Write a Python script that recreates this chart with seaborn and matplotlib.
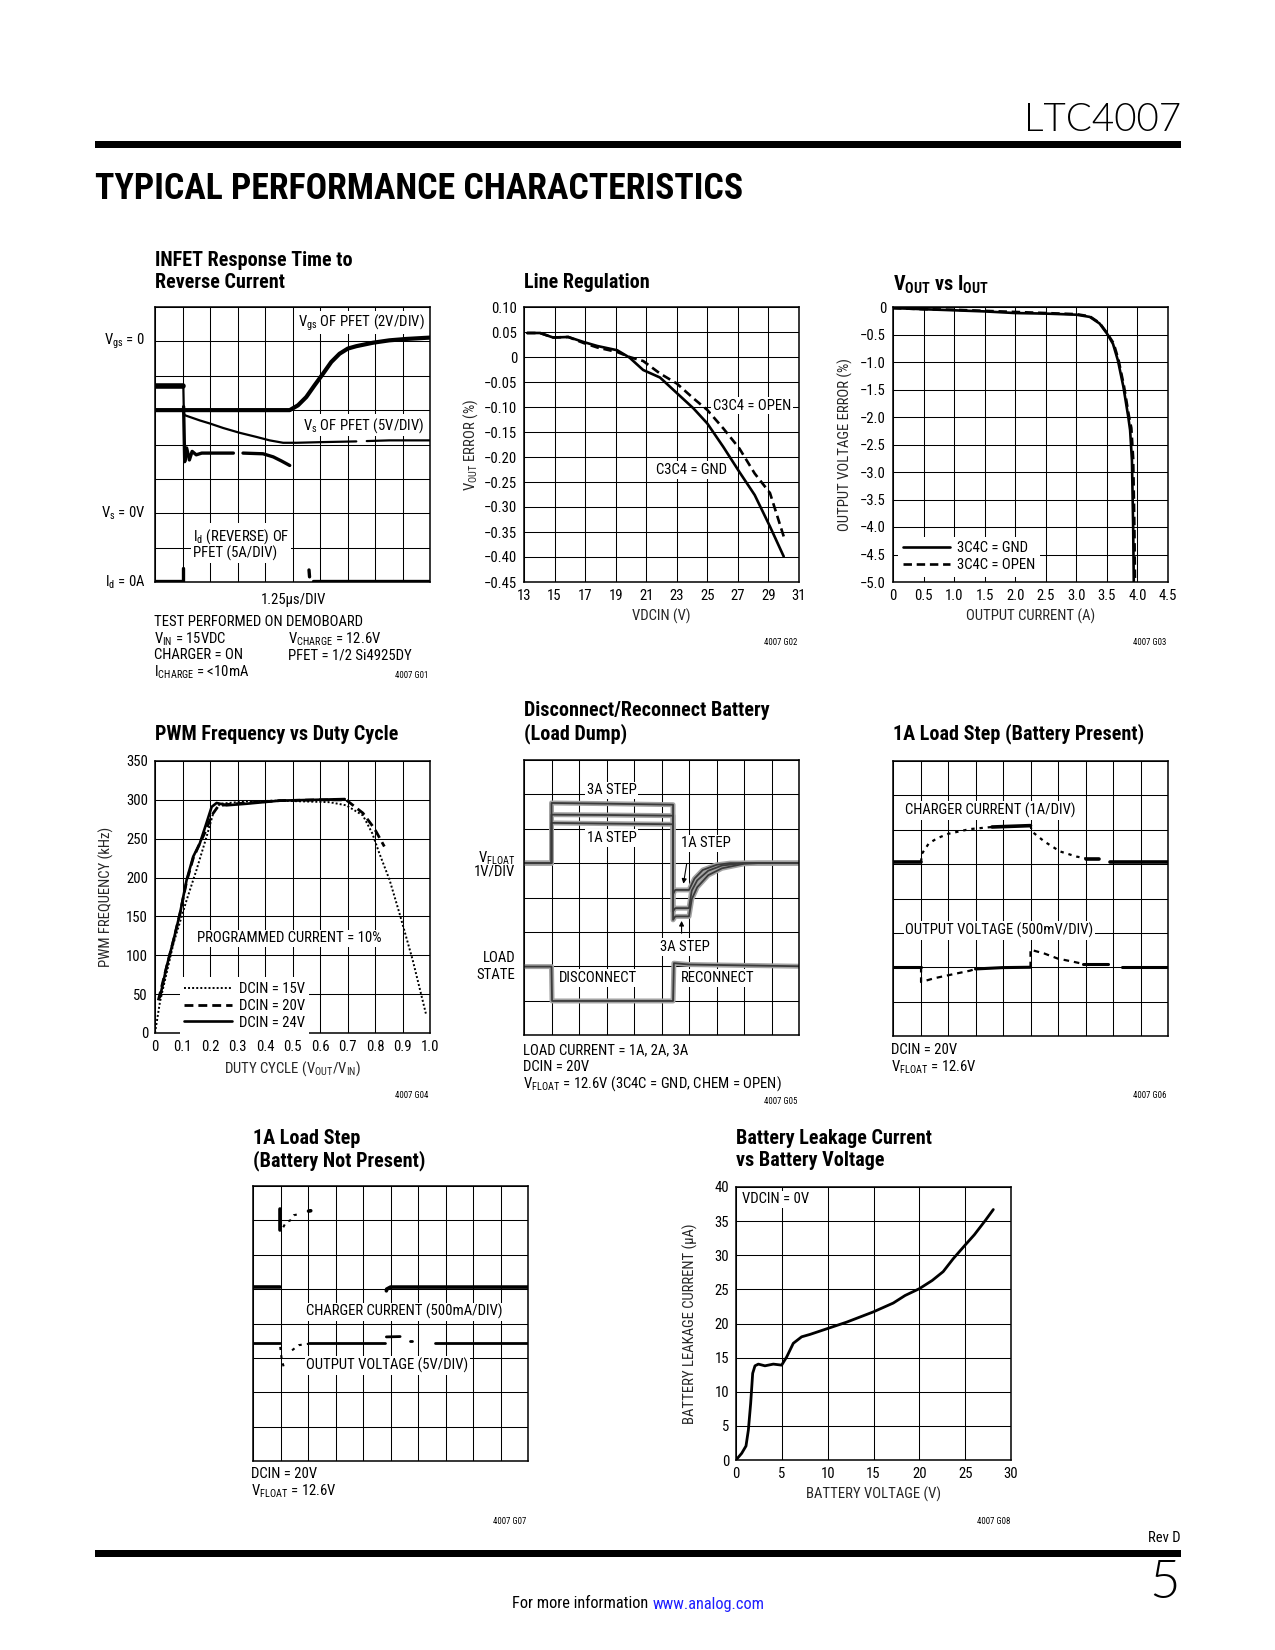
import matplotlib
matplotlib.use("Agg")
import matplotlib.pyplot as plt
import seaborn as sns
import pandas as pd
from matplotlib import font_manager
from matplotlib.patches import Rectangle

# ======================= DATA =======================
# G01  INFET response (scope divisions: x 0..10, y 0..8)
infet_vgs_t = [0, 4.90, 5.20, 5.50, 5.80, 6.11, 6.41, 6.71, 7.01, 7.32, 7.92, 8.52, 9.13, 10.0]
infet_vgs_v = [5.0, 5.00, 5.14, 5.38, 5.72, 6.06, 6.40, 6.64, 6.79, 6.86, 6.96, 7.03, 7.07, 7.11]
infet_vs_pre_t = [0, 1.03]
infet_vs_pre_v = [5.70, 5.70]
infet_vs_t = [1.03, 1.05, 1.09, 1.63, 2.0, 2.48, 3.08, 3.69, 4.17, 4.66, 5.14, 6.11, 7.32, 7.7, 8.52, 10]
infet_vs_v = [5.70, 4.90, 4.85, 4.70, 4.61, 4.48, 4.34, 4.22, 4.12, 4.05, 4.05, 4.07, 4.09, 4.10, 4.12, 4.12]
infet_vs_seg = [0, 0, 0, 0, 0, 0, 0, 0, 0, 0, 0, 0, 0, 1, 1, 1]
infet_id_t = [0, 1.03, 1.03, 1.04, 1.08, 1.15, 1.25, 1.35, 1.5, 1.7, 2.85, 3.2, 3.93, 4.3, 4.6, 4.9, 5.6, 5.62, 5.75, 10]
infet_id_v = [0.03, 0.03, 0.40, 5.10, 3.50, 3.90, 3.55, 3.80, 3.70, 3.75, 3.75, 3.75, 3.73, 3.64, 3.52, 3.39, 0.35, 0.15, 0.04, 0.04]
infet_id_seg = [0, 0, 0, 1, 1, 1, 1, 1, 1, 1, 1, 2, 2, 2, 2, 2, 3, 3, 4, 4]

# G02  Line regulation
lr_gnd_vdcin = [13.2, 14.05, 14.9, 15.9, 16.9, 17.8, 19.1, 19.9, 20.8, 21.9, 23.0, 24.1, 25.0, 26.05, 27.1, 28.1, 29.1, 30.0]
lr_gnd_err = [0.048, 0.048, 0.039, 0.040, 0.030, 0.022, 0.0135, -0.001, -0.026, -0.041, -0.072, -0.103, -0.133, -0.180, -0.230, -0.276, -0.339, -0.399]
lr_open_vdcin = [13.2, 14.05, 14.9, 15.9, 16.9, 17.8, 19.1, 19.9, 20.8, 21.9, 23.0, 24.1, 25.0, 26.05, 27.1, 28.1, 29.1, 30.0]
lr_open_err = [0.048, 0.048, 0.039, 0.040, 0.028, 0.019, 0.010, 0.000, -0.008, -0.033, -0.053, -0.083, -0.106, -0.143, -0.183, -0.233, -0.272, -0.359]
lr_xticks = [13, 15, 17, 19, 21, 23, 25, 27, 29, 31]
lr_yticks = [0.10, 0.05, 0, -0.05, -0.10, -0.15, -0.20, -0.25, -0.30, -0.35, -0.40, -0.45]
lr_yticklabels = ["0.10", "0.05", "0", "\u22120.05", "\u22120.10", "\u22120.15", "\u22120.20", "\u22120.25",
                  "\u22120.30", "\u22120.35", "\u22120.40", "\u22120.45"]

# G03  Vout vs Iout
vi_gnd_i = [0, 0.5, 1.0, 1.5, 2.0, 2.5, 3.0, 3.22, 3.38, 3.5, 3.6, 3.68, 3.77, 3.85, 3.88, 3.91, 3.93, 3.94]
vi_gnd_err = [-0.02, -0.04, -0.06, -0.08, -0.11, -0.12, -0.14, -0.18, -0.30, -0.48, -0.67, -0.97, -1.45, -2.0, -2.24, -2.79, -4.0, -5.0]
vi_open_i = [0, 0.5, 1.0, 1.5, 2.0, 2.5, 3.0, 3.22, 3.38, 3.5, 3.61, 3.69, 3.78, 3.86, 3.9, 3.93, 3.95, 3.96]
vi_open_err = [-0.02, -0.04, -0.05, -0.07, -0.09, -0.11, -0.13, -0.17, -0.29, -0.47, -0.66, -0.96, -1.44, -1.98, -2.2, -2.75, -4.0, -5.0]
vi_xticks = [0, 0.5, 1.0, 1.5, 2.0, 2.5, 3.0, 3.5, 4.0, 4.5]
vi_xticklabels = ["0", "0.5", "1.0", "1.5", "2.0", "2.5", "3.0", "3.5", "4.0", "4.5"]
vi_yticks = [0, -0.5, -1.0, -1.5, -2.0, -2.5, -3.0, -3.5, -4.0, -4.5, -5.0]
vi_yticklabels = ["0", "\u22120.5", "\u22121.0", "\u22121.5", "\u22122.0", "\u22122.5", "\u22123.0",
                  "\u22123.5", "\u22124.0", "\u22124.5", "\u22125.0"]

# G04  PWM frequency vs duty cycle
pwm15_duty = [0.0, 0.018, 0.067, 0.115, 0.151, 0.187, 0.212, 0.236, 0.333, 0.45, 0.635, 0.695, 0.756, 0.79, 0.816, 0.853, 0.889, 0.937, 0.985]
pwm15_khz = [0, 40, 115, 171, 210, 252, 283, 295, 298, 299, 297, 293, 280, 257, 231, 197, 154, 94, 25]
pwm20_duty = [0.012, 0.04, 0.067, 0.091, 0.115, 0.139, 0.163, 0.187, 0.206, 0.23, 0.26, 0.333, 0.453, 0.6, 0.695, 0.756, 0.798, 0.834]
pwm20_khz = [42, 82, 119, 154, 195, 225, 244, 262, 280, 292, 294, 296, 299, 300, 300, 283, 263, 240]
pwm24_duty = [0.018, 0.042, 0.067, 0.091, 0.115, 0.139, 0.163, 0.187, 0.206, 0.224, 0.26, 0.333, 0.453, 0.574, 0.69]
pwm24_khz = [46, 85, 119, 154, 197, 227, 244, 270, 291, 296, 293, 295, 299, 300, 301]
pwm_xticks = [0, 0.1, 0.2, 0.3, 0.4, 0.5, 0.6, 0.7, 0.8, 0.9, 1.0]
pwm_xticklabels = ["0", "0.1", "0.2", "0.3", "0.4", "0.5", "0.6", "0.7", "0.8", "0.9", "1.0"]
pwm_yticks = [0, 50, 100, 150, 200, 250, 300, 350]

# G05  Disconnect / reconnect (scope divisions)
ld_vf3_t = [0, 1.0, 1.0, 3.0, 5.42, 5.42, 5.5, 6.0, 6.1, 6.3, 6.7, 7.2, 8.0, 8.5, 10]
ld_vf3_v = [5.0, 5.0, 6.75, 6.73, 6.70, 3.35, 3.45, 3.45, 3.95, 4.30, 4.65, 4.85, 4.98, 5.0, 5.0]
ld_vf2_t = [0, 1.0, 1.0, 3.0, 5.42, 5.42, 5.5, 6.0, 6.1, 6.3, 6.7, 7.2, 8.0, 10]
ld_vf2_v = [5.0, 5.0, 6.41, 6.40, 6.38, 3.60, 3.69, 3.69, 4.20, 4.50, 4.78, 4.93, 5.0, 5.0]
ld_vf1_t = [0, 1.0, 1.0, 3.0, 5.42, 5.42, 5.5, 6.0, 6.2, 6.5, 7.0, 7.5, 10]
ld_vf1_v = [5.0, 5.0, 6.17, 6.15, 6.13, 4.10, 4.22, 4.22, 4.55, 4.80, 4.95, 5.0, 5.0]
ld_state_t = [0, 1.0, 1.02, 5.42, 5.45, 6.0, 10]
ld_state_v = [1.99, 1.99, 0.99, 0.99, 2.09, 2.05, 2.0]

# G06  1A load step, battery present (scope divisions)
bp_cc_solid_t = [0, 1.02, 3.6, 5.0, 7.0, 7.5, 7.88, 10]
bp_cc_solid_v = [5.07, 5.07, 6.08, 6.12, 5.16, 5.16, 5.07, 5.07]
bp_cc_solid_seg = [0, 0, 1, 1, 2, 2, 3, 3]
bp_cc_dot_t = [1.02, 1.05, 1.3, 1.6, 2.0, 2.8, 3.6, 5.0, 5.05, 5.5, 6.07, 6.67, 7.0]
bp_cc_dot_v = [5.07, 5.30, 5.60, 5.75, 5.88, 6.02, 6.08, 6.12, 5.95, 5.66, 5.37, 5.22, 5.17]
bp_cc_dot_seg = [0, 0, 0, 0, 0, 0, 0, 1, 1, 1, 1, 1, 1]
bp_ov_solid_t = [0, 1.02, 3.0, 4.0, 5.0, 6.9, 7.8, 8.33, 10]
bp_ov_solid_v = [2.01, 2.01, 1.95, 1.99, 2.0, 2.09, 2.09, 2.01, 2.01]
bp_ov_solid_seg = [0, 0, 1, 1, 1, 2, 2, 3, 3]
bp_ov_dot_t = [1.02, 1.02, 1.5, 2.2, 2.8, 3.0, 5.0, 5.0, 5.5, 6.0, 6.5, 6.9]
bp_ov_dot_v = [2.01, 1.57, 1.68, 1.80, 1.90, 1.95, 2.0, 2.51, 2.40, 2.25, 2.17, 2.10]
bp_ov_dot_seg = [0, 0, 0, 0, 0, 0, 1, 1, 1, 1, 1, 1]

# G07  1A load step, battery not present (scope divisions)
bn_cc_solid_t = [0, 0.97, 0.99, 0.99, 2.02, 2.10, 4.85, 4.86, 5.0, 10]
bn_cc_solid_v = [5.06, 5.06, 7.34, 6.71, 7.27, 7.28, 4.95, 5.0, 5.06, 5.06]
bn_cc_solid_seg = [0, 0, 1, 1, 2, 2, 3, 3, 3, 3]
bn_cc_dot_t = [1.10, 1.20, 1.36, 1.48, 1.66]
bn_cc_dot_v = [6.80, 6.95, 7.00, 7.15, 7.18]
bn_ov_solid_t = [0, 0.97, 2.02, 4.80, 4.85, 5.35, 5.72, 5.78, 6.63, 10]
bn_ov_solid_v = [3.43, 3.43, 3.43, 3.43, 3.61, 3.62, 3.50, 3.50, 3.43, 3.43]
bn_ov_solid_seg = [0, 0, 1, 1, 2, 2, 3, 3, 4, 4]
bn_ov_dot_t = [0.99, 1.02, 1.05, 1.12, 1.42, 1.66, 2.02]
bn_ov_dot_v = [3.32, 3.10, 2.93, 2.73, 3.22, 3.37, 3.41]
bn_ov_dot_seg = [0, 0, 0, 0, 1, 1, 1]

# G08  Battery leakage current vs battery voltage
leak_v = [0, 0.62, 1.09, 1.35, 1.6, 1.82, 2.07, 2.44, 3.16, 4.07, 4.98, 5.53, 6.25, 7.16, 8.07, 10.07,
          12.07, 14.98, 17.16, 18.44, 20.0, 21.4, 22.6, 23.7, 25.0, 26.0, 27.2, 28.07]
leak_ua = [0, 0.98, 2.05, 4.4, 8.3, 12.7, 13.8, 14.05, 13.8, 14.05, 13.9, 15.1, 17.1, 18.05, 18.4, 19.3,
           20.2, 21.7, 23.0, 24.1, 25.1, 26.3, 27.6, 29.5, 31.5, 33.0, 35.1, 36.7]
leak_xticks = [0, 5, 10, 15, 20, 25, 30]
leak_yticks = [0, 5, 10, 15, 20, 25, 30, 35, 40]

# ======================= STYLE =======================
sns.set_theme(style="white")
names = {f.name for f in font_manager.fontManager.ttflist}
NARROW = next((n for n in ["Liberation Sans Narrow", "Roboto Condensed", "Liberation Sans", "Roboto"]
               if n in names), "DejaVu Sans")
LIGHT = next((n for n in ["Lato", "Roboto", "Open Sans"] if n in names), "DejaVu Sans")
plt.rcParams["font.family"] = [NARROW, "DejaVu Sans"]
plt.rcParams["mathtext.default"] = "regular"
plt.rcParams["text.color"] = "black"

W, H, DPI = 1275, 1650, 100
FS = 10.6
TFS = 14.5
GFS = 6.3
WHITE = dict(facecolor="white", edgecolor="none", pad=1.2)

fig = plt.figure(figsize=(W / DPI, H / DPI), dpi=DPI)
fig.patch.set_facecolor("white")


def px_axes(l, t, w=275, h=275):
    ax = fig.add_axes([l / W, 1 - (t + h) / H, w / W, h / H])
    ax.set_facecolor("white")
    for s in ax.spines.values():
        s.set_visible(True)
        s.set_color("black")
        s.set_linewidth(1.1)
    ax.set_axisbelow(True)
    ax.grid(True, color="black", linewidth=0.75)
    ax.tick_params(length=0, labelsize=FS, colors="black", pad=5)
    return ax


def scope_axes(l, t):
    ax = px_axes(l, t)
    ax.set_xlim(0, 10)
    ax.set_ylim(0, 8)
    ax.set_xticks(range(11))
    ax.set_yticks(range(9))
    ax.tick_params(labelbottom=False, labelleft=False)
    return ax


def ftext(x, y, s, **kw):
    kw.setdefault("fontsize", FS)
    kw.setdefault("va", "center")
    kw.setdefault("ha", "left")
    return fig.text(x / W, 1 - y / H, s, **kw)


def title(x, y, s):
    return ftext(x, y, s, fontsize=TFS, fontweight="bold")


def trace(ax, t, v, seg=None, **kw):
    df = pd.DataFrame({"t": t, "v": v, "seg": seg if seg is not None else [0] * len(t)})
    sns.lineplot(data=df, x="t", y="v", units="seg", estimator=None, sort=False,
                 ax=ax, legend=False, **kw)
    ax.set_xlabel("")
    ax.set_ylabel("")


# ======================= HEADER / FOOTER =======================
fig.add_artist(Rectangle((95 / W, 1 - 148 / H), (1181 - 95) / W, 7 / H, transform=fig.transFigure,
                         facecolor="black", edgecolor="none"))
fig.add_artist(Rectangle((95 / W, 1 - 1557 / H), (1181 - 95) / W, 7 / H, transform=fig.transFigure,
                         facecolor="black", edgecolor="none"))
part = ftext(1181, 120, "LTC4007", ha="right", fontsize=28, family=[LIGHT, "DejaVu Sans"], fontweight=300)
head = ftext(95, 189, "TYPICAL PERFORMANCE CHARACTERISTICS", fontsize=26, fontweight="heavy")
ftext(1181, 1538, "Rev D", ha="right", fontsize=10.5)
ftext(1180, 1583, "5", ha="right", fontsize=38, family=[LIGHT, "DejaVu Sans"], fontweight=300)
info = ftext(512, 1604, "For more information", fontsize=11.8)
web = ftext(640, 1604, "www.analog.com", fontsize=11.8, color="#1f1fff")

# ======================= G01 =======================
ax = scope_axes(155, 307)
trace(ax, infet_vs_pre_t, infet_vs_pre_v, color="black", linewidth=4.0)
trace(ax, infet_vs_t, infet_vs_v, infet_vs_seg, color="black", linewidth=1.6)
trace(ax, infet_vgs_t, infet_vgs_v, color="black", linewidth=3.0)
trace(ax, infet_id_t, infet_id_v, infet_id_seg, color="black", linewidth=2.4)
ax.text(5.2, 7.55, "V$_{gs}$ OF PFET (2V/DIV)", fontsize=FS, va="center", bbox=WHITE)
ax.text(5.37, 4.56, "V$_{s}$ OF PFET (5V/DIV)", fontsize=FS, va="center", bbox=WHITE)
ax.text(1.38, 1.1, "I$_{d}$ (REVERSE) OF\nPFET (5A/DIV)", fontsize=FS, va="center", linespacing=1.0, bbox=WHITE)
for yv, s in [(7, "V$_{gs}$ = 0"), (2, "V$_{s}$ = 0V"), (0, "I$_{d}$ = 0A")]:
    ax.text(-0.35, yv, s, fontsize=FS, ha="right", va="center", clip_on=False)
title(155, 260, "INFET Response Time to")
title(155, 283, "Reverse Current")
ftext(293, 600, "1.25\u00b5s/DIV", ha="center")
ftext(154, 622, "TEST PERFORMED ON DEMOBOARD")
ftext(154, 639, "V$_{IN}$ = 15VDC")
ftext(154, 655, "CHARGER = ON")
ftext(154, 672, "I$_{CHARGE}$ = <10mA")
ftext(288, 639, "V$_{CHARGE}$ = 12.6V")
ftext(288, 655, "PFET = 1/2 Si4925DY")
ftext(428, 676, "4007 G01", ha="right", fontsize=GFS)

# ======================= G02 =======================
ax = px_axes(524, 307)
sns.lineplot(x=lr_open_vdcin, y=lr_open_err, ax=ax, color="black", linewidth=1.9,
             linestyle=(0, (3.2, 1.8)), estimator=None, sort=False)
sns.lineplot(x=lr_gnd_vdcin, y=lr_gnd_err, ax=ax, color="black", linewidth=1.9, estimator=None, sort=False)
ax.set_xlim(13, 31)
ax.set_ylim(-0.45, 0.10)
ax.set_xticks(lr_xticks)
ax.set_yticks(lr_yticks)
ax.set_yticklabels(lr_yticklabels)
ax.set_xlabel("VDCIN (V)", fontsize=FS, labelpad=4)
ax.set_ylabel("V$_{OUT}$ ERROR (%)", fontsize=FS, labelpad=3)
ax.text(25.37, -0.097, "C3C4 = OPEN", fontsize=FS, va="center", bbox=WHITE)
ax.text(21.64, -0.226, "C3C4 = GND", fontsize=FS, va="center", bbox=WHITE)
title(524, 283, "Line Regulation")
ftext(797, 643, "4007 G02", ha="right", fontsize=GFS)

# ======================= G03 =======================
ax = px_axes(893, 307)
sns.lineplot(x=vi_open_i, y=vi_open_err, ax=ax, color="black", linewidth=1.9,
             linestyle=(0, (3.2, 1.8)), estimator=None, sort=False, label="3C4C = OPEN")
sns.lineplot(x=vi_gnd_i, y=vi_gnd_err, ax=ax, color="black", linewidth=1.9, estimator=None, sort=False,
             label="3C4C = GND")
ax.set_xlim(0, 4.5)
ax.set_ylim(-5.0, 0)
ax.set_xticks(vi_xticks)
ax.set_xticklabels(vi_xticklabels)
ax.set_yticks(vi_yticks)
ax.set_yticklabels(vi_yticklabels)
ax.set_xlabel("OUTPUT CURRENT (A)", fontsize=FS, labelpad=4)
ax.set_ylabel("OUTPUT VOLTAGE ERROR (%)", fontsize=FS, labelpad=5)
hs, ls = ax.get_legend_handles_labels()
leg = ax.legend(hs[::-1], ls[::-1], loc="lower left", bbox_to_anchor=(0.0, 0.0), fontsize=FS,
                frameon=True, facecolor="white", edgecolor="none", framealpha=1, fancybox=False,
                handlelength=3.2, handletextpad=0.5, labelspacing=0.2, borderpad=0.3, borderaxespad=0.35)
title(893, 285, "V$_{OUT}$ vs I$_{OUT}$")
ftext(1166, 643, "4007 G03", ha="right", fontsize=GFS)

# ======================= G04 =======================
ax = px_axes(155, 761, 275, 272)
sns.lineplot(x=pwm15_duty, y=pwm15_khz, ax=ax, color="black", linewidth=1.4, linestyle=(0, (1, 1.1)),
             estimator=None, sort=False, label="DCIN = 15V")
sns.lineplot(x=pwm20_duty, y=pwm20_khz, ax=ax, color="black", linewidth=2.0, linestyle=(0, (3.2, 1.8)),
             estimator=None, sort=False, label="DCIN = 20V")
sns.lineplot(x=pwm24_duty, y=pwm24_khz, ax=ax, color="black", linewidth=1.9,
             estimator=None, sort=False, label="DCIN = 24V")
ax.set_xlim(0, 1.0)
ax.set_ylim(0, 350)
ax.set_xticks(pwm_xticks)
ax.set_xticklabels(pwm_xticklabels)
ax.set_yticks(pwm_yticks)
ax.set_xlabel("DUTY CYCLE (V$_{OUT}$/V$_{IN}$)", fontsize=FS, labelpad=4)
ax.set_ylabel("PWM FREQUENCY (kHz)", fontsize=FS, labelpad=9)
ax.legend(loc="lower left", bbox_to_anchor=(0.075, -0.02), fontsize=FS,
          frameon=True, facecolor="white", edgecolor="none", framealpha=1, fancybox=False,
          handlelength=3.2, handletextpad=0.5, labelspacing=0.2, borderpad=0.3, borderaxespad=0.3)
ax.text(0.152, 122, "PROGRAMMED CURRENT = 10%", fontsize=FS, va="center", bbox=WHITE)
title(155, 734, "PWM Frequency vs Duty Cycle")
ftext(428, 1095, "4007 G04", ha="right", fontsize=GFS)

# ======================= G05 =======================
ax = scope_axes(524, 760)
for tt, vv in [(ld_vf1_t, ld_vf1_v), (ld_vf2_t, ld_vf2_v), (ld_vf3_t, ld_vf3_v), (ld_state_t, ld_state_v)]:
    trace(ax, tt, vv, color="#a3a3a3", linewidth=3.6)
for tt, vv in [(ld_vf1_t, ld_vf1_v), (ld_vf2_t, ld_vf2_v), (ld_vf3_t, ld_vf3_v), (ld_state_t, ld_state_v)]:
    trace(ax, tt, vv, color="#3a3a3a", linewidth=1.3)
ax.text(2.29, 7.12, "3A STEP", fontsize=FS, va="center", bbox=WHITE)
ax.text(2.29, 5.73, "1A STEP", fontsize=FS, va="center", bbox=WHITE)
ax.text(5.70, 5.58, "1A STEP", fontsize=FS, va="center", bbox=WHITE)
ax.text(4.93, 2.56, "3A STEP", fontsize=FS, va="center", bbox=WHITE)
ax.text(1.27, 1.66, "DISCONNECT", fontsize=FS, va="center", bbox=WHITE)
ax.text(5.70, 1.66, "RECONNECT", fontsize=FS, va="center", bbox=WHITE)
ax.annotate("", xy=(5.78, 4.32), xytext=(5.93, 5.05),
            arrowprops=dict(arrowstyle="-|>", color="black", lw=0.8, mutation_scale=7))
ax.annotate("", xy=(5.73, 3.40), xytext=(5.73, 2.88),
            arrowprops=dict(arrowstyle="-|>", color="black", lw=0.8, mutation_scale=7))
ftext(515, 858, "V$_{FLOAT}$", ha="right")
ftext(515, 872, "1V/DIV", ha="right")
ftext(515, 958, "LOAD", ha="right")
ftext(515, 975, "STATE", ha="right")
title(524, 711, "Disconnect/Reconnect Battery")
title(524, 734, "(Load Dump)")
ftext(523, 1050, "LOAD CURRENT = 1A, 2A, 3A")
ftext(523, 1067, "DCIN = 20V")
ftext(523, 1084, "V$_{FLOAT}$ = 12.6V (3C4C = GND, CHEM = OPEN)")
ftext(797, 1101, "4007 G05", ha="right", fontsize=GFS)

# ======================= G06 =======================
ax = scope_axes(893, 761)
trace(ax, bp_cc_solid_t, bp_cc_solid_v, bp_cc_solid_seg, color="black", linewidth=2.6)
trace(ax, bp_cc_dot_t, bp_cc_dot_v, bp_cc_dot_seg, color="black", linewidth=1.6, linestyle=(0, (1.5, 2.2)))
trace(ax, bp_ov_solid_t, bp_ov_solid_v, bp_ov_solid_seg, color="black", linewidth=2.2)
trace(ax, bp_ov_dot_t, bp_ov_dot_v, bp_ov_dot_seg, color="black", linewidth=1.6, linestyle=(0, (2.5, 2.2)))
ax.text(0.45, 6.56, "CHARGER CURRENT (1A/DIV)", fontsize=FS, va="center", bbox=WHITE)
ax.text(0.45, 3.07, "OUTPUT VOLTAGE (500mV/DIV)", fontsize=FS, va="center", bbox=WHITE)
title(893, 734, "1A Load Step (Battery Present)")
ftext(891, 1050, "DCIN = 20V")
ftext(891, 1067, "V$_{FLOAT}$ = 12.6V")
ftext(1166, 1095, "4007 G06", ha="right", fontsize=GFS)

# ======================= G07 =======================
ax = scope_axes(253, 1186)
trace(ax, bn_cc_solid_t, bn_cc_solid_v, bn_cc_solid_seg, color="black", linewidth=2.6)
trace(ax, bn_cc_dot_t, bn_cc_dot_v, color="black", linewidth=1.5, linestyle=(0, (1.5, 2.5)))
trace(ax, bn_ov_solid_t, bn_ov_solid_v, bn_ov_solid_seg, color="black", linewidth=2.0)
trace(ax, bn_ov_dot_t, bn_ov_dot_v, bn_ov_dot_seg, color="black", linewidth=1.5, linestyle=(0, (1.5, 2.5)))
ax.text(1.94, 4.34, "CHARGER CURRENT (500mA/DIV)", fontsize=FS, va="center", bbox=WHITE)
ax.text(1.94, 2.78, "OUTPUT VOLTAGE (5V/DIV)", fontsize=FS, va="center", bbox=WHITE)
title(253, 1138, "1A Load Step")
title(253, 1161, "(Battery Not Present)")
ftext(251, 1474, "DCIN = 20V")
ftext(251, 1491, "V$_{FLOAT}$ = 12.6V")
ftext(526, 1521, "4007 G07", ha="right", fontsize=GFS)

# ======================= G08 =======================
ax = px_axes(736, 1187, 275, 273)
sns.lineplot(x=leak_v, y=leak_ua, ax=ax, color="black", linewidth=2.0, estimator=None, sort=False)
ax.set_xlim(0, 30)
ax.set_ylim(0, 40)
ax.set_xticks(leak_xticks)
ax.set_yticks(leak_yticks)
ax.set_xlabel("BATTERY VOLTAGE (V)", fontsize=FS, labelpad=4)
ax.set_ylabel("BATTERY LEAKAGE CURRENT (\u00b5A)", fontsize=FS, labelpad=12)
ax.text(0.65, 38.2, "VDCIN = 0V", fontsize=FS, va="center", bbox=WHITE)
title(736, 1138, "Battery Leakage Current")
title(736, 1161, "vs Battery Voltage")
ftext(1010, 1521, "4007 G08", ha="right", fontsize=GFS)

# ---- fit header text widths / place web link after the info text ----
fig.canvas.draw()
r = fig.canvas.get_renderer()
bb = head.get_window_extent(r)
head.set_fontsize(head.get_fontsize() * 649.0 / bb.width)
bb = part.get_window_extent(r)
part.set_fontsize(part.get_fontsize() * 157.0 / bb.width)
bb = info.get_window_extent(r)
web.set_x((bb.x1 + 4) / W)

fig.savefig("out.png", dpi=DPI, facecolor="white")
